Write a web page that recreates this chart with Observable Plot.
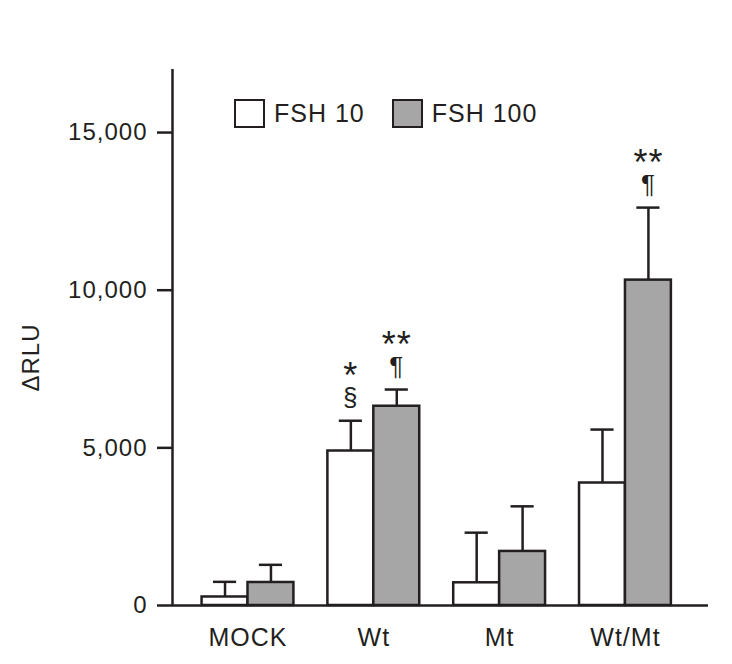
<!DOCTYPE html>
<html>
<head>
<meta charset="utf-8">
<script src="https://cdn.jsdelivr.net/npm/d3@7"></script>
<script src="https://cdn.jsdelivr.net/npm/@observablehq/plot@0.6"></script>
<style>
  html, body { margin: 0; padding: 0; background: #fff; }
  #wrap { position: relative; width: 732px; height: 664px; font-family: "Liberation Sans", Arial, sans-serif; color: #231f20; }
  #legend { position: absolute; left: 234px; top: 99px; display: flex; align-items: center; font-size: 25px; letter-spacing: 1px; }
  .sw { width: 27px; height: 25px; border: 2.5px solid #231f20; margin-right: 9px; }
  .item { display: flex; align-items: center; margin-right: 27px; }
  #wrap svg [aria-label="y-axis tick"] { stroke-width: 2.5px; stroke: #231f20; }
  #wrap svg [aria-label="y-axis tick"] path { stroke-width: 2.5px; stroke: #231f20; }
</style>
</head>
<body>
<div id="wrap"><div id="legend"></div></div>
<script>
// ---- data ----
const groups = ["MOCK", "Wt", "Mt", "Wt/Mt"];
const series = ["FSH 10", "FSH 100"];
const fsh10 = [270, 4900, 720, 3885];
const fsh10Err = [480, 960, 1590, 1695];
const fsh100 = [730, 6320, 1715, 10320];
const fsh100Err = [560, 530, 1430, 2300];
const fsh10Sym = ["", "§", "", ""];
const fsh10Stars = ["", "*", "", ""];
const fsh100Sym = ["", "¶", "", "¶"];
const fsh100Stars = ["", "**", "", "**"];
const yTicks = [0, 5000, 10000, 15000];
const yLabel = "ΔRLU";

const INK = "#231f20";
const GRAY = "#a6a6a6";
const colors = {"FSH 10": "#ffffff", "FSH 100": GRAY};
const BARW = 0.365;   // bar width in group units
const CAP = 0.092;    // half cap width in group units
const xDomain = [-0.6, 3.66];
const yDomain = [0, 17000];

const rows = [];
groups.forEach((g, i) => {
  rows.push({group: g, series: series[0], i, x1: i - BARW, x2: i, value: fsh10[i], top: fsh10[i] + fsh10Err[i], sym: fsh10Sym[i], stars: fsh10Stars[i]});
  rows.push({group: g, series: series[1], i, x1: i, x2: i + BARW, value: fsh100[i], top: fsh100[i] + fsh100Err[i], sym: fsh100Sym[i], stars: fsh100Stars[i]});
});
rows.forEach(d => d.center = (d.x1 + d.x2) / 2);

const chart = Plot.plot({
  width: 732,
  height: 664,
  marginLeft: 172,
  marginRight: 24,
  marginTop: 69,
  marginBottom: 59,
  x: {domain: xDomain},
  y: {domain: yDomain},
  style: {fontFamily: "'Liberation Sans', Arial, sans-serif", fontSize: "24px", color: INK, background: "white", letterSpacing: "1px"},
  marks: [
    Plot.ruleX(rows, {x: "center", y1: "value", y2: "top", stroke: INK, strokeWidth: 2.5}),
    Plot.ruleY(rows, {y: "top", x1: d => d.center - CAP, x2: d => d.center + CAP, stroke: INK, strokeWidth: 2.5}),
    Plot.rect(rows, {x1: "x1", x2: "x2", y1: 0, y2: "value", fill: d => colors[d.series], stroke: INK, strokeWidth: 2.5}),
    Plot.text(rows.filter(d => d.sym), {x: "center", y: "top", text: "sym", dy: -23, fontSize: 26, lineAnchor: "middle", fill: INK}),
    Plot.text(rows.filter(d => d.stars), {x: "center", y: "top", text: "stars", dy: -44, fontSize: 36, lineAnchor: "middle", fill: INK, letterSpacing: 3}),
    Plot.ruleY([yDomain[0]], {stroke: INK, strokeWidth: 2.5}),
    Plot.ruleX([xDomain[0]], {stroke: INK, strokeWidth: 2.5}),
    Plot.axisY({ticks: yTicks, tickFormat: d3.format(","), tickSize: 15, tickPadding: 10, strokeWidth: 2.5, stroke: INK, strokeOpacity: 1, fill: INK, label: null}),
    Plot.axisX({ticks: groups.map((g, i) => i), tickFormat: i => groups[i], tickSize: 0, tickPadding: 23, fontSize: 25, fill: INK, label: null}),
    Plot.text([yLabel], {text: d => d, frameAnchor: "left", textAnchor: "middle", dx: -141, dy: 20, rotate: -90, fontSize: 24, fill: INK})
  ]
});
const wrap = document.getElementById("wrap");
wrap.insertBefore(chart, wrap.firstChild);

const legend = document.getElementById("legend");
series.forEach(s => {
  const it = document.createElement("div");
  it.className = "item";
  const sw = document.createElement("div");
  sw.className = "sw";
  sw.style.background = colors[s];
  const t = document.createElement("span");
  t.textContent = s;
  it.appendChild(sw); it.appendChild(t);
  legend.appendChild(it);
});
</script>
</body>
</html>
